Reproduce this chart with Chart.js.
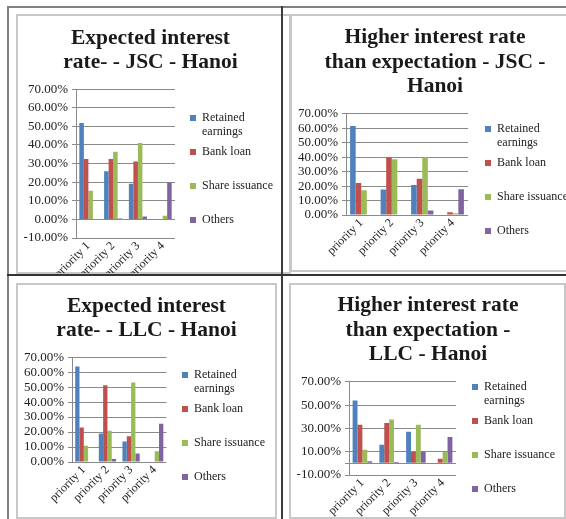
<!DOCTYPE html>
<html>
<head>
<meta charset="utf-8">
<title>Capital priorities - Hanoi</title>
<script src="https://cdn.jsdelivr.net/npm/chart.js@4.4.1/dist/chart.umd.min.js"></script>
<style>
  body { margin: 0; width: 566px; height: 519px; overflow: hidden; position: relative; background: #fff; }
  .frame { position: absolute; box-sizing: border-box; border: 2px solid #c8c8c8; background: #fff; }
  .wrap { position: absolute; }
  .rule { position: absolute; }
</style>
</head>
<body>
  <!-- chart frames -->
  <div class="frame" style="left:16px; top:14px; width:275px; height:260px;"></div>
  <div class="frame" style="left:290px; top:14px; width:290px; height:258px;"></div>
  <div class="frame" style="left:16px; top:283px; width:261px; height:236px;"></div>
  <div class="frame" style="left:289px; top:283px; width:277px; height:236px;"></div>

  <div class="wrap" style="left:18px; top:15px; width:265px; height:258px;"><canvas id="jsc-expected"></canvas></div>
  <div class="wrap" style="left:292px; top:16px; width:286px; height:255px;"><canvas id="jsc-higher"></canvas></div>
  <div class="wrap" style="left:18px; top:285px; width:257px; height:233px;"><canvas id="llc-expected"></canvas></div>
  <div class="wrap" style="left:291px; top:285px; width:274px; height:233px;"><canvas id="llc-higher"></canvas></div>

  <!-- table lines -->
  <div class="rule" style="left:7px; top:6px; width:559px; height:2px; background:#808080;"></div>
  <div class="rule" style="left:7px; top:6px; width:2px; height:513px; background:#808080;"></div>
  <div class="rule" style="left:281px; top:6px; width:2px; height:513px; background:#3c3c3c;"></div>
  <div class="rule" style="left:7px; top:274px; width:559px; height:2px; background:#333;"></div>

<script>
// Source data (percent of respondents)

const categories = ['priority 1', 'priority 2', 'priority 3', 'priority 4'];
const seriesNames = ['Retained earnings', 'Bank loan', 'Share issuance', 'Others'];
const seriesColors = ['#4F81BD', '#C0504D', '#9BBB59', '#8064A2'];

// Expected interest rate - JSC - Hanoi
const jscExpRetained = [51.8, 25.9, 19.1, 0];
const jscExpBank = [32.5, 32.5, 31.1, 0];
const jscExpShare = [15.4, 36.4, 41.1, 2.0];
const jscExpOthers = [0, 0.5, 1.5, 19.8];

// Higher interest rate than expectation - JSC - Hanoi
const jscHighRetained = [61.5, 17.7, 20.7, 0];
const jscHighBank = [22.1, 40.0, 25.1, 1.9];
const jscHighShare = [17.2, 38.6, 40.0, 1.2];
const jscHighOthers = [0, 0, 3.2, 17.8];

// Expected interest rate - LLC - Hanoi
const llcExpRetained = [63.7, 19.0, 13.7, 0];
const llcExpBank = [23.1, 51.2, 17.2, 0];
const llcExpShare = [10.9, 20.9, 53.0, 7.2];
const llcExpOthers = [0, 2.0, 5.7, 25.5];

// Higher interest rate than expectation - LLC - Hanoi
const llcHighRetained = [54.0, 16.0, 27.1, 0];
const llcHighBank = [33.1, 34.6, 9.7, 4.0];
const llcHighShare = [11.7, 37.7, 33.1, 9.7];
const llcHighOthers = [1.7, 1.1, 10.0, 22.6];

// Y tick labels shown on each chart
const ticksTen = [-10, 0, 10, 20, 30, 40, 50, 60, 70];
const ticksTenPositive = [0, 10, 20, 30, 40, 50, 60, 70];
const ticksTwenty = [-10, 10, 30, 50, 70];

Chart.defaults.font.family = '"Liberation Serif", "Times New Roman", serif';
Chart.defaults.color = '#222';

// Excel wraps the long legend entry onto two lines
function legendText(name) {
  if (name.length > 15) {
    const i = name.indexOf(' ');
    return [name.slice(0, i), name.slice(i + 1)];
  }
  return [name, ''];
}

function makeChart(id, title, seriesValues, tickLabels, lay) {
  const yMin = tickLabels[0];
  const yMax = tickLabels[tickLabels.length - 1];

  return new Chart(document.getElementById(id), {
    type: 'bar',
    data: {
      labels: categories,
      datasets: seriesValues.map((values, i) => ({
        label: seriesNames[i],
        data: values,
        backgroundColor: seriesColors[i],
        borderWidth: 0,
        categoryPercentage: 0.73,
        barPercentage: 1
      }))
    },
    options: {
      responsive: true,
      maintainAspectRatio: false,
      animation: false,
      layout: { padding: 0 },
      plugins: {
        tooltip: { enabled: false },
        title: {
          display: true,
          text: title,
          color: '#1a1a1a',
          font: { size: 21.5, weight: 'bold', lineHeight: lay.titleLine },
          padding: { top: lay.titleTop, bottom: lay.titleBottom }
        },
        legend: {
          position: 'right',
          align: 'start',
          maxWidth: 200,
          // empty legend title only pushes the entries down
          title: { display: true, text: '', font: { size: 1, lineHeight: 1 }, padding: { top: lay.legendTop - 1, bottom: 0 } },
          labels: {
            boxWidth: 6,
            boxHeight: 6,
            padding: 6,
            color: '#222',
            font: { size: 12, lineHeight: '14px' },
            generateLabels: chart => chart.data.datasets.map((ds, i) => ({
              text: legendText(ds.label),
              fillStyle: ds.backgroundColor,
              strokeStyle: ds.backgroundColor,
              lineWidth: 0,
              hidden: false,
              datasetIndex: i
            }))
          }
        }
      },
      scales: {
        x: {
          grid: { display: false, drawTicks: false },
          border: { display: false },
          ticks: {
            autoSkip: false,
            minRotation: 45,
            maxRotation: 45,
            padding: 1,
            color: '#222',
            font: { size: 12 }
          },
          afterFit: scale => { scale.height = lay.xHeight; }
        },
        y: {
          min: yMin,
          max: yMax,
          afterBuildTicks: scale => {
            // keep every 10% line so the zero line is drawn even on the 20% chart
            const ticks = [];
            for (let v = yMin; v <= yMax; v += 10) ticks.push({ value: v });
            scale.ticks = ticks;
          },
          grid: {
            color: ctx => (tickLabels.includes(ctx.tick.value) || ctx.tick.value === 0) ? '#8a8a8a' : 'rgba(0,0,0,0)',
            tickLength: 4,
            lineWidth: 1
          },
          border: { display: true, color: '#8a8a8a' },
          ticks: {
            autoSkip: false,
            padding: 4,
            color: '#222',
            font: { size: 13 },
            callback: value => tickLabels.includes(value) ? value.toFixed(2) + '%' : ''
          },
          afterFit: scale => { scale.width = lay.yWidth; }
        },
        gap: {
          type: 'linear',
          position: 'right',
          display: true,
          grid: { display: false },
          border: { display: false },
          ticks: { display: false },
          afterFit: scale => { scale.width = lay.gap; }
        }
      }
    }
  });
}

makeChart('jsc-expected', ['Expected interest', 'rate- - JSC - Hanoi'],
  [jscExpRetained, jscExpBank, jscExpShare, jscExpOthers], ticksTen,
  { yWidth: 58, xHeight: 35, gap: 9, titleLine: 1.08, titleTop: 12.2, titleBottom: 15.5, legendTop: 91 });

makeChart('jsc-higher', ['Higher interest rate', 'than expectation - JSC -', 'Hanoi'],
  [jscHighRetained, jscHighBank, jscHighShare, jscHighOthers], ticksTenPositive,
  { yWidth: 54, xHeight: 56, gap: 11, titleLine: 1.14, titleTop: 9.5, titleBottom: 14.8, legendTop: 101 });

makeChart('llc-expected', ['Expected interest', 'rate- - LLC - Hanoi'],
  [llcExpRetained, llcExpBank, llcExpShare, llcExpOthers], ticksTenPositive,
  { yWidth: 54, xHeight: 56, gap: 9.5, titleLine: 1.12, titleTop: 9.5, titleBottom: 14.5, legendTop: 78 });

makeChart('llc-higher', ['Higher interest rate', 'than expectation -', 'LLC - Hanoi'],
  [llcHighRetained, llcHighBank, llcHighShare, llcHighOthers], ticksTwenty,
  { yWidth: 58, xHeight: 43, gap: 10, titleLine: 1.14, titleTop: 8.2, titleBottom: 15.1, legendTop: 90 });
</script>
</body>
</html>
